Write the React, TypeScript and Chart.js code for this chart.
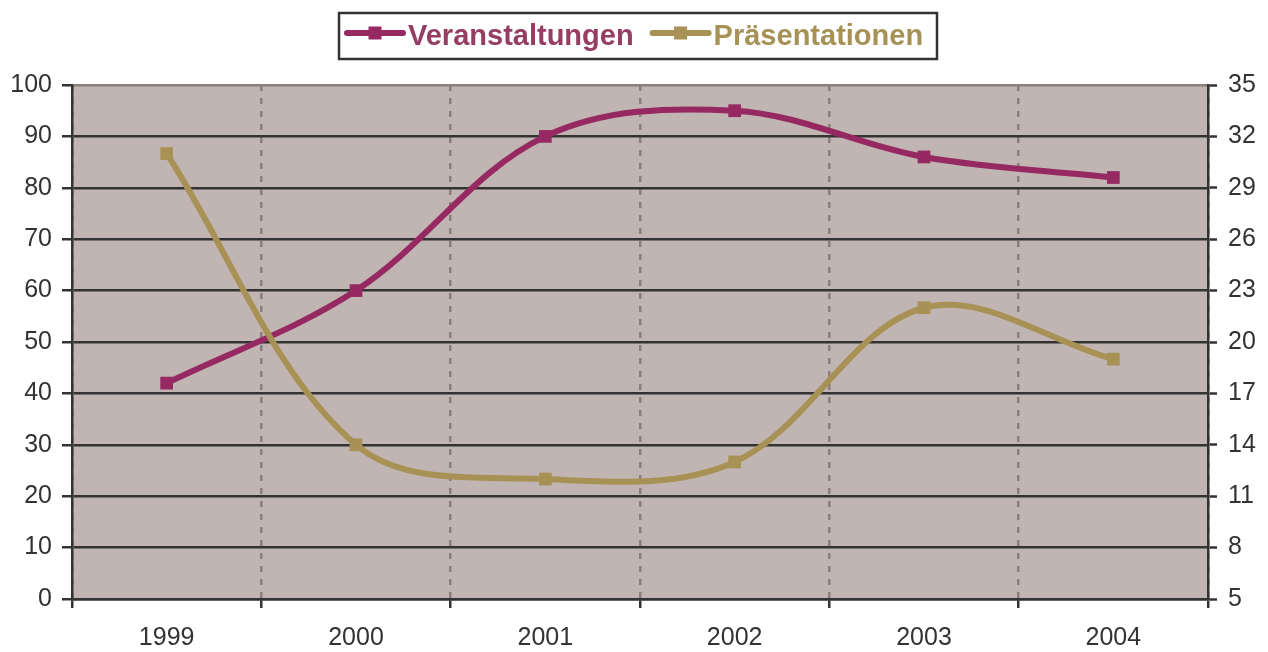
import React, { useEffect, useRef } from "react";
import { Chart, registerables } from "chart.js";

Chart.register(...registerables);

const years = ["1999", "2000", "2001", "2002", "2003", "2004"];
const veranstaltungen = [42, 60, 90, 95, 86, 82];
const praesentationen = [31, 14, 12, 13, 22, 19];
const seriesLabels = ["Veranstaltungen", "Präsentationen"];
const leftMin = 0, leftMax = 100, leftStep = 10;
const rightMin = 5, rightMax = 35, rightStep = 3;

const PLUM = "#962961";
const PLUM_TEXT = "#953d62";
const GOLD = "#a89155";
const GOLD_TEXT = "#a79256";
const PLOT_BG = "#c0b5b2";
const DARK = "#333333";
const FONT = "'Liberation Sans', Arial, sans-serif";

const bgPlugin = {
  id: "plotBg",
  beforeDraw(chart: any) {
    const { ctx, chartArea } = chart;
    ctx.save();
    ctx.fillStyle = "#ffffff";
    ctx.fillRect(0, 0, chart.width, chart.height);
    ctx.fillStyle = PLOT_BG;
    ctx.fillRect(chartArea.left, chartArea.top, chartArea.right - chartArea.left, chartArea.bottom - chartArea.top);
    ctx.restore();
  },
};

const legendPlugin = {
  id: "boxLegend",
  afterDraw(chart: any) {
    const { ctx } = chart;
    const boxX = 339, boxY = 13, boxW = 598, boxH = 46;
    ctx.save();
    ctx.lineWidth = 2.5;
    ctx.strokeStyle = DARK;
    ctx.strokeRect(boxX, boxY, boxW, boxH);
    ctx.font = `bold 29px ${FONT}`;
    ctx.textBaseline = "alphabetic";
    const lineY = 33;
    let x = 347;
    const textColors = [PLUM_TEXT, GOLD_TEXT];
    chart.data.datasets.forEach((ds: any, i: number) => {
      ctx.strokeStyle = ds.borderColor;
      ctx.lineWidth = 6;
      ctx.lineCap = "round";
      ctx.beginPath();
      ctx.moveTo(x, lineY);
      ctx.lineTo(x + 56, lineY);
      ctx.stroke();
      ctx.fillStyle = ds.borderColor;
      ctx.fillRect(x + 28 - 6.5, lineY - 6.5, 13, 13);
      const tx = x + 61;
      ctx.fillStyle = textColors[i];
      ctx.fillText(ds.label, tx, 45);
      const w = ctx.measureText(ds.label).width;
      x = tx + w + 19;
    });
    ctx.restore();
  },
};

export default function App() {
  const ref = useRef<HTMLCanvasElement | null>(null);
  useEffect(() => {
    document.body.style.margin = "0";
    if (!ref.current) return;
    const chart = new Chart(ref.current, {
      type: "line",
      data: {
        labels: years,
        datasets: [
          {
            label: seriesLabels[0],
            data: veranstaltungen,
            yAxisID: "y",
            borderColor: PLUM,
            backgroundColor: PLUM,
            borderWidth: 6,
            tension: 0.35,
            pointStyle: "rect",
            pointRadius: 9,
            pointBorderWidth: 0,
            pointBackgroundColor: PLUM,
            order: 1,
          },
          {
            label: seriesLabels[1],
            data: praesentationen,
            yAxisID: "y1",
            borderColor: GOLD,
            backgroundColor: GOLD,
            borderWidth: 6,
            tension: 0.35,
            pointStyle: "rect",
            pointRadius: 9,
            pointBorderWidth: 0,
            pointBackgroundColor: GOLD,
            order: 0,
          },
        ],
      },
      options: {
        animation: false,
        responsive: false,
        layout: { padding: { top: 85, left: 0, right: 0, bottom: 0 } },
        plugins: { legend: { display: false }, tooltip: { enabled: false }, title: { display: false } },
        scales: {
          x: {
            type: "category",
            offset: true,
            grid: {
              offset: true,
              color: "#8a7e7d",
              lineWidth: 2.5,
              tickColor: DARK,
              tickLength: 9,
              tickWidth: 2.5,
              tickBorderDash: [],
            },
            border: { display: true, color: DARK, width: 2.5, dash: [6, 7] },
            ticks: { color: DARK, font: { family: FONT, size: 25 }, padding: 15 },
            afterFit(scale: any) {
              scale.height = 53;
            },
          },
          y: {
            position: "left",
            min: leftMin,
            max: leftMax,
            grid: {
              color: (c: any) => (c.tick && c.tick.value === leftMax ? "#8c807f" : DARK),
              lineWidth: 2.5,
              tickColor: DARK,
              tickLength: 10,
              tickWidth: 2.5,
            },
            border: { display: true, color: DARK, width: 2.5 },
            ticks: { stepSize: leftStep, color: DARK, font: { family: FONT, size: 25 }, padding: 10 },
            afterFit(scale: any) {
              scale.width = 72;
            },
          },
          y1: {
            position: "right",
            min: rightMin,
            max: rightMax,
            grid: { drawOnChartArea: false, tickColor: DARK, tickLength: 9, tickWidth: 2.5 },
            border: { display: true, color: DARK, width: 2.5 },
            ticks: { stepSize: rightStep, color: DARK, font: { family: FONT, size: 25 }, padding: 11 },
            afterFit(scale: any) {
              scale.width = 60;
            },
          },
        },
      },
      plugins: [bgPlugin, legendPlugin],
    } as any);
    return () => chart.destroy();
  }, []);
  return (
    <div style={{ width: 1268, height: 652 }}>
      <canvas ref={ref} width={1268} height={652} style={{ display: "block" }} />
    </div>
  );
}
